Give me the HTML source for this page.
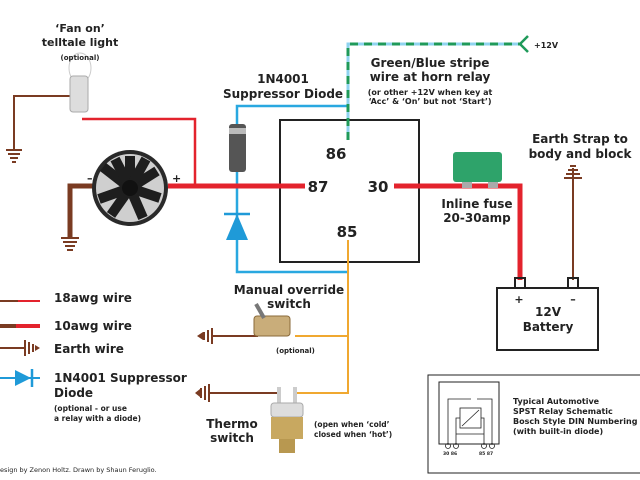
<!DOCTYPE html>
<html><head><meta charset="utf-8"><style>
body{margin:0;background:#fff}
svg{display:block}
text{font-family:"DejaVu Sans","Liberation Sans",sans-serif;font-weight:bold;fill:#222}
</style></head><body>
<svg width="640" height="480" viewBox="0 0 640 480" xmlns="http://www.w3.org/2000/svg">
<!-- relay -->
<rect x="280" y="120" width="139" height="142" fill="none" stroke="#222" stroke-width="2"/>
<text x="336" y="159" font-size="15" text-anchor="middle">86</text>
<text x="318" y="192" font-size="15" text-anchor="middle">87</text>
<text x="378" y="192" font-size="15" text-anchor="middle">30</text>
<text x="347" y="237" font-size="15" text-anchor="middle">85</text>
<!-- diode wires -->
<polyline points="348,106 237,106 237,272 348,272" fill="none" stroke="#29a8e0" stroke-width="2.5"/>
<rect x="229" y="124" width="17" height="48" rx="3" fill="#555"/>
<rect x="229" y="128" width="17" height="6" fill="#bbb"/>
<polygon points="237,214 226,240 248,240" fill="#1f9ad8"/>
<line x1="224" y1="214" x2="250" y2="214" stroke="#1f9ad8" stroke-width="2.5"/>
<!-- green/blue dashed -->
<polyline points="348,140 348,44 522,44" fill="none" stroke="#8fd3ef" stroke-width="3"/>
<polyline points="348,140 348,44 522,44" fill="none" stroke="#1f9a5a" stroke-width="3" stroke-dasharray="8,6"/>
<polyline points="528,36 520,44 528,52" fill="none" stroke="#1f9a5a" stroke-width="2.5"/>
<text x="534" y="48" font-size="8">+12V</text>
<text x="430" y="67" font-size="12" text-anchor="middle">Green/Blue stripe</text>
<text x="430" y="81" font-size="12" text-anchor="middle">wire at horn relay</text>
<text x="430" y="95" font-size="8" text-anchor="middle">(or other +12V when key at</text>
<text x="430" y="104" font-size="8" text-anchor="middle">‘Acc’ &amp; ‘On’ but not ‘Start’)</text>
<text x="283" y="83" font-size="12" text-anchor="middle">1N4001</text>
<text x="283" y="98" font-size="12" text-anchor="middle">Suppressor Diode</text>
<!-- red wires -->
<line x1="168" y1="186" x2="305" y2="186" stroke="#e3232d" stroke-width="5"/>
<polyline points="82,119 195,119 195,186" fill="none" stroke="#e3232d" stroke-width="2.5"/>
<polyline points="394,186 520,186 520,280" fill="none" stroke="#e3232d" stroke-width="5"/>
<!-- fuse -->
<rect x="462" y="170" width="10" height="18" fill="#aaa"/><rect x="488" y="170" width="10" height="18" fill="#aaa"/>
<rect x="453" y="152" width="49" height="30" rx="3" fill="#2ea36a"/>
<text x="477" y="208" font-size="12" text-anchor="middle">Inline fuse</text>
<text x="477" y="222" font-size="12" text-anchor="middle">20-30amp</text>
<!-- earth strap -->
<line x1="573" y1="168" x2="573" y2="280" stroke="#7a3b22" stroke-width="2"/>
<g stroke="#7a3b22" stroke-width="2"><line x1="570" y1="166" x2="576" y2="166"/><line x1="568" y1="170" x2="578" y2="170"/><line x1="566" y1="174" x2="580" y2="174"/><line x1="564" y1="178" x2="582" y2="178"/></g>
<text x="580" y="143" font-size="12" text-anchor="middle">Earth Strap to</text>
<text x="580" y="158" font-size="12" text-anchor="middle">body and block</text>
<!-- battery -->
<rect x="515" y="278" width="10" height="10" fill="none" stroke="#222" stroke-width="2"/>
<rect x="568" y="278" width="10" height="10" fill="none" stroke="#222" stroke-width="2"/>
<rect x="497" y="288" width="101" height="62" fill="none" stroke="#222" stroke-width="2"/>
<text x="519" y="303" font-size="11" text-anchor="middle">+</text>
<text x="573" y="303" font-size="11" text-anchor="middle">–</text>
<text x="548" y="316" font-size="12" text-anchor="middle">12V</text>
<text x="548" y="331" font-size="12" text-anchor="middle">Battery</text>
<!-- lamp -->
<polyline points="70,96 14,96 14,150" fill="none" stroke="#7a3b22" stroke-width="2"/>
<g stroke="#7a3b22" stroke-width="2"><line x1="6" y1="150" x2="22" y2="150"/><line x1="8" y1="154" x2="20" y2="154"/><line x1="10" y1="158" x2="18" y2="158"/><line x1="12" y1="162" x2="16" y2="162"/></g>
<ellipse cx="80" cy="68" rx="11" ry="15" fill="none" stroke="#ccc"/>
<rect x="70" y="76" width="18" height="36" rx="3" fill="#ddd" stroke="#aaa"/>
<text x="80" y="32" font-size="11" text-anchor="middle">‘Fan on’</text>
<text x="80" y="46" font-size="11" text-anchor="middle">telltale light</text>
<text x="80" y="60" font-size="7" text-anchor="middle">(optional)</text>
<!-- fan -->
<polyline points="94,186 70,186 70,238" fill="none" stroke="#7a3b22" stroke-width="5"/>
<g stroke="#7a3b22" stroke-width="2"><line x1="61" y1="238" x2="79" y2="238"/><line x1="63" y1="242" x2="77" y2="242"/><line x1="65" y1="246" x2="75" y2="246"/><line x1="67" y1="250" x2="73" y2="250"/></g>
<circle cx="130" cy="188" r="38" fill="#2a2a2a"/>
<circle cx="130" cy="188" r="34" fill="#cfcfcf"/>
<g stroke="#1e1e1e" stroke-width="10">
<line x1="130" y1="188" x2="130" y2="156"/><line x1="130" y1="188" x2="157" y2="171"/><line x1="130" y1="188" x2="160" y2="198"/><line x1="130" y1="188" x2="143" y2="218"/><line x1="130" y1="188" x2="111" y2="215"/><line x1="130" y1="188" x2="99" y2="199"/><line x1="130" y1="188" x2="103" y2="167"/><line x1="130" y1="188" x2="115" y2="159"/><line x1="130" y1="188" x2="146" y2="159"/></g>
<circle cx="130" cy="188" r="8" fill="#111"/>
<text x="87" y="182" font-size="11">–</text><text x="172" y="182" font-size="11">+</text>
<!-- orange -->
<polyline points="348,240 348,393 297,393" fill="none" stroke="#f0a830" stroke-width="2"/>
<line x1="295" y1="336" x2="348" y2="336" stroke="#f0a830" stroke-width="2"/>
<!-- switch -->
<line x1="212" y1="336" x2="258" y2="336" stroke="#7a3b22" stroke-width="2"/>
<g stroke="#7a3b22" stroke-width="2"><line x1="208" y1="330" x2="208" y2="342"/><line x1="204" y1="332" x2="204" y2="340"/><line x1="212" y1="328" x2="212" y2="344"/></g>
<polygon points="197,336 203,332 203,340" fill="#7a3b22"/>
<rect x="254" y="316" width="36" height="20" rx="3" fill="#c9ad7a" stroke="#8a6a3a"/>
<line x1="264" y1="318" x2="256" y2="304" stroke="#777" stroke-width="4"/>
<text x="289" y="294" font-size="12" text-anchor="middle">Manual override</text>
<text x="289" y="308" font-size="12" text-anchor="middle">switch</text>
<text x="276" y="353" font-size="7">(optional)</text>
<!-- thermo -->
<line x1="208" y1="393" x2="278" y2="393" stroke="#7a3b22" stroke-width="2"/>
<g stroke="#7a3b22" stroke-width="2"><line x1="205" y1="386" x2="205" y2="400"/><line x1="201" y1="388" x2="201" y2="398"/><line x1="209" y1="384" x2="209" y2="402"/></g>
<polygon points="195,393 200,389 200,397" fill="#7a3b22"/>
<rect x="277" y="387" width="4" height="18" fill="#ccc"/><rect x="293" y="387" width="4" height="18" fill="#ccc"/>
<rect x="271" y="403" width="32" height="14" rx="3" fill="#ddd" stroke="#aaa"/>
<rect x="271" y="417" width="32" height="22" fill="#c8a860"/>
<rect x="279" y="439" width="16" height="14" fill="#b89850"/>
<text x="232" y="428" font-size="12" text-anchor="middle">Thermo</text>
<text x="232" y="442" font-size="12" text-anchor="middle">switch</text>
<text x="314" y="427" font-size="7.5">(open when ‘cold’</text>
<text x="314" y="437" font-size="7.5">closed when ‘hot’)</text>
<!-- legend -->
<line x1="0" y1="301" x2="18" y2="301" stroke="#7a3b22" stroke-width="2"/><line x1="18" y1="301" x2="40" y2="301" stroke="#e3232d" stroke-width="2"/>
<line x1="0" y1="326" x2="16" y2="326" stroke="#7a3b22" stroke-width="4"/><line x1="16" y1="326" x2="40" y2="326" stroke="#e3232d" stroke-width="4"/>
<line x1="0" y1="348" x2="24" y2="348" stroke="#7a3b22" stroke-width="2"/>
<g stroke="#7a3b22" stroke-width="2"><line x1="25" y1="340" x2="25" y2="356"/><line x1="29" y1="342" x2="29" y2="354"/><line x1="33" y1="344" x2="33" y2="352"/></g>
<polygon points="40,348 35,345 35,351" fill="#7a3b22"/>
<line x1="0" y1="378" x2="40" y2="378" stroke="#1f9ad8" stroke-width="2"/>
<polygon points="31,378 15,370 15,386" fill="#1f9ad8"/>
<line x1="32" y1="369" x2="32" y2="387" stroke="#1f9ad8" stroke-width="2.5"/>
<text x="54" y="302" font-size="12">18awg wire</text>
<text x="54" y="330" font-size="12">10awg wire</text>
<text x="54" y="353" font-size="12">Earth wire</text>
<text x="54" y="382" font-size="12">1N4001 Suppressor</text>
<text x="54" y="397" font-size="12">Diode</text>
<text x="54" y="411" font-size="7.5">(optional - or use</text>
<text x="54" y="421" font-size="7.5">a relay with a diode)</text>
<text x="0" y="472" font-size="6.5" style="font-weight:normal">esign by Zenon Holtz. Drawn by Shaun Feruglio.</text>
<!-- schematic box -->
<rect x="428" y="375" width="220" height="98" fill="none" stroke="#222" stroke-width="1"/>
<rect x="439" y="382" width="60" height="62" fill="none" stroke="#222" stroke-width="1"/>
<g fill="none" stroke="#222" stroke-width="0.8">
<polyline points="448,445 448,399 471,399"/><polyline points="477,399 492,399 492,445"/>
<rect x="460" y="408" width="21" height="20"/><line x1="462" y1="426" x2="479" y2="410"/>
<polyline points="456,445 456,418 460,418"/><polyline points="481,418 484,418 484,445"/>
<line x1="456" y1="434" x2="484" y2="434"/>
<circle cx="448" cy="446" r="2.5"/><circle cx="456" cy="446" r="2.5"/><circle cx="484" cy="446" r="2.5"/><circle cx="492" cy="446" r="2.5"/></g>
<text x="443" y="455" font-size="4.5">30 86</text><text x="479" y="455" font-size="4.5">85 87</text>
<text x="513" y="404" font-size="8">Typical Automotive</text>
<text x="513" y="414" font-size="8">SPST Relay Schematic</text>
<text x="513" y="424" font-size="8">Bosch Style DIN Numbering</text>
<text x="513" y="434" font-size="8">(with built-in diode)</text>
</svg>
</body></html>
